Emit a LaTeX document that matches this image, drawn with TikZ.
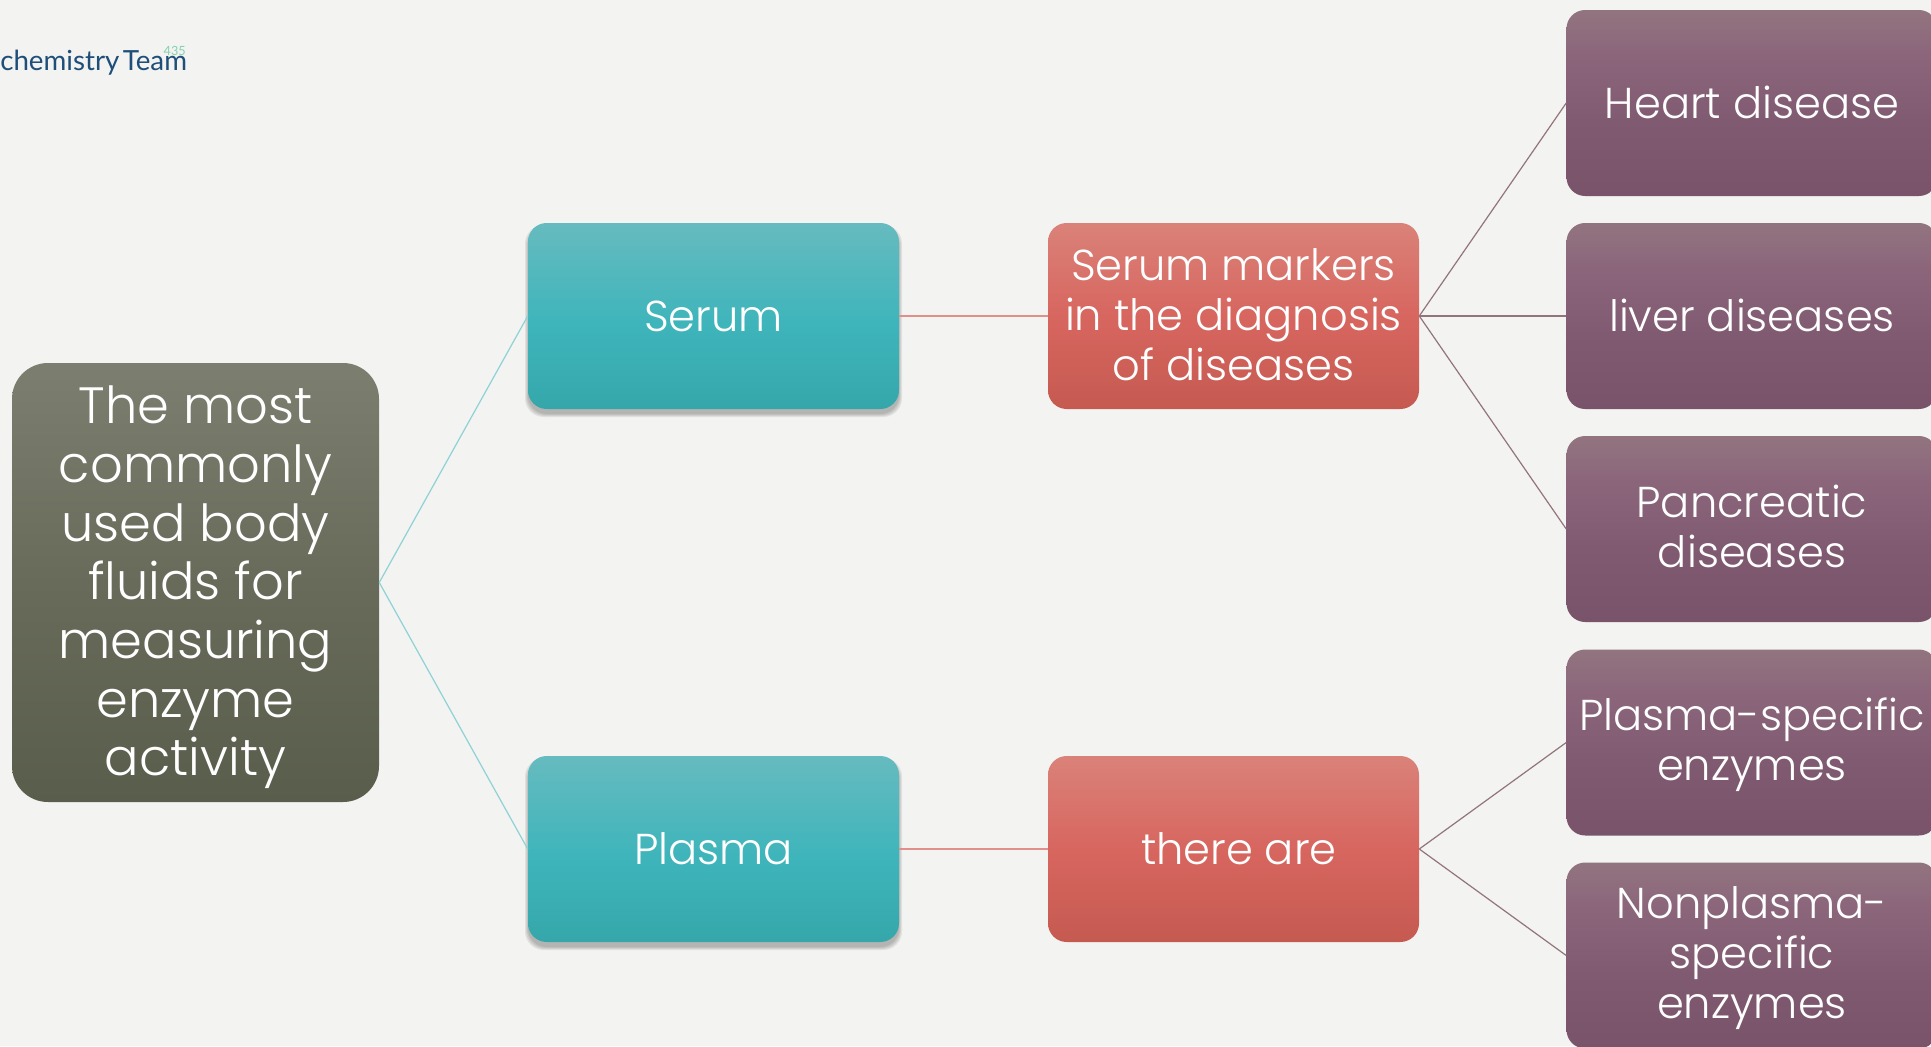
\documentclass[tikz,border=0pt]{standalone}
\usepackage{fontspec}
\newfontfamily\gothic{Poppins Light}
\newfontfamily\logofont{Lato}
\newcommand\topgap[2]{\rule{0pt}{#1}\\[#2]}
\definecolor{pt}{HTML}{92747F}\definecolor{pm}{HTML}{8C677C}\definecolor{pb}{HTML}{79536A}
\definecolor{tt}{HTML}{66BBBF}\definecolor{tm}{HTML}{3EB5BB}\definecolor{tb}{HTML}{35A7AB}
\definecolor{rt}{HTML}{DA8279}\definecolor{rm}{HTML}{D7665F}\definecolor{rb}{HTML}{C55A51}
\definecolor{gt}{HTML}{7C7E6F}\definecolor{gm}{HTML}{686B5A}\definecolor{gb}{HTML}{595D4B}
\definecolor{bgc}{HTML}{F3F3F1}
\definecolor{logoblue}{HTML}{1F4E79}
\definecolor{logogreen}{HTML}{84D2AE}
\definecolor{tlink}{HTML}{8ED2D5}
\definecolor{rlink}{HTML}{E08F8A}
\pgfdeclareverticalshading{purpshade}{100bp}{color(0bp)=(pb); color(25bp)=(pb); color(45bp)=(pb!65!pm); color(64bp)=(pm); color(75bp)=(pt); color(100bp)=(pt)}
\pgfdeclareverticalshading{tealshade}{100bp}{color(0bp)=(tb); color(25bp)=(tb); color(48bp)=(tm); color(75bp)=(tt); color(100bp)=(tt)}
\pgfdeclareverticalshading{redshade}{100bp}{color(0bp)=(rb); color(25bp)=(rb); color(50bp)=(rm); color(75bp)=(rt); color(100bp)=(rt)}
\pgfdeclareverticalshading{rootshade}{100bp}{color(0bp)=(gb); color(25bp)=(gb); color(50bp)=(gm); color(75bp)=(gt); color(100bp)=(gt)}
\tikzset{
  x=0.75pt,y=-0.75pt,
  basebox/.style={rectangle,text=white,align=center,inner sep=0pt,minimum width=278.25pt,minimum height=139.5pt,rounded corners=14pt,
    execute at begin node={\rule[-0.245em]{0pt}{1.195em}},
    execute at end node={\rule[-0.245em]{0pt}{1.195em}},
    font=\gothic\fontsize{32.4}{37.4}\selectfont},
  rootbox/.style={basebox,shading=rootshade,minimum width=275.25pt,minimum height=329.25pt,rounded corners=27pt,
    font=\gothic\fontsize{38.3}{44}\selectfont},
  tealbox/.style={basebox,shading=tealshade},
  redbox/.style={basebox,shading=redshade},
  purpbox/.style={basebox,shading=purpshade},
  teallink/.style={draw=tlink,line width=0.9pt},
  redlink/.style={draw=rlink,line width=1pt},
  purplink/.style={draw=pt,line width=0.9pt},
}
\begin{document}
\begin{tikzpicture}
\useasboundingbox (0,0) rectangle (1931,1046);
\fill[bgc] (0,0) rectangle (1931,1046);
\clip (0,0) rectangle (1931,1046);
% soft shadows under the teal boxes
\foreach \cy in {316,849}{
  \foreach \g in {3,2,1,0}{
    \fill[black,opacity=0.07,rounded corners=14pt] (528-\g,\cy-93+5-\g) rectangle (899+\g,\cy+93+5+\g);
  }
}
\node[rootbox] (root) at (195.5,582.5) {\topgap{35.7pt}{-44pt}The most\\commonly\\used body\\fluids for\\measuring\\enzyme\\activity};
\node[tealbox] (serum) at (713.5,316) {Serum};
\node[tealbox] (plasma) at (713.5,849) {Plasma};
\node[redbox] (markers) at (1233.5,316) {\topgap{30pt}{-37.4pt}Serum markers\\in the diagnosis\\of diseases};
\node[redbox] (there) at (1233.5,849) {\hspace*{8pt}there are};
\node[purpbox] (heart) at (1752,103) {Heart disease};
\node[purpbox] (liver) at (1752,316) {liver diseases};
\node[purpbox] (pancreas) at (1752,529) {\topgap{28pt}{-37.4pt}Pancreatic\\diseases};
\node[purpbox] (pspec) at (1752,742.5) {\topgap{28pt}{-37.4pt}Plasma-specific\\enzymes};
\node[purpbox] (npspec) at (1752,955.5) {\topgap{28pt}{-37.4pt}Nonplasma-\\specific\\enzymes};
\draw[teallink] (root.east) -- (serum.west);
\draw[teallink] (root.east) -- (plasma.west);
\draw[redlink] (serum.east) -- (markers.west);
\draw[redlink] (plasma.east) -- (there.west);
\draw[purplink] (markers.east) -- (heart.west);
\draw[purplink] (markers.east) -- (liver.west);
\draw[purplink] (markers.east) -- (pancreas.west);
\draw[purplink] (there.east) -- (pspec.west);
\draw[purplink] (there.east) -- (npspec.west);
\node[anchor=base west,inner sep=0pt,text=logoblue,font=\logofont\fontsize{20.8}{24}\selectfont] (logo) at (0,70) {chemistry\hspace{0.12em}Team};
\node[anchor=base east,inner sep=0pt,text=logogreen,font=\logofont\fontsize{9.5}{12}\selectfont] (num) at (186,55) {435};
\end{tikzpicture}
\end{document}
